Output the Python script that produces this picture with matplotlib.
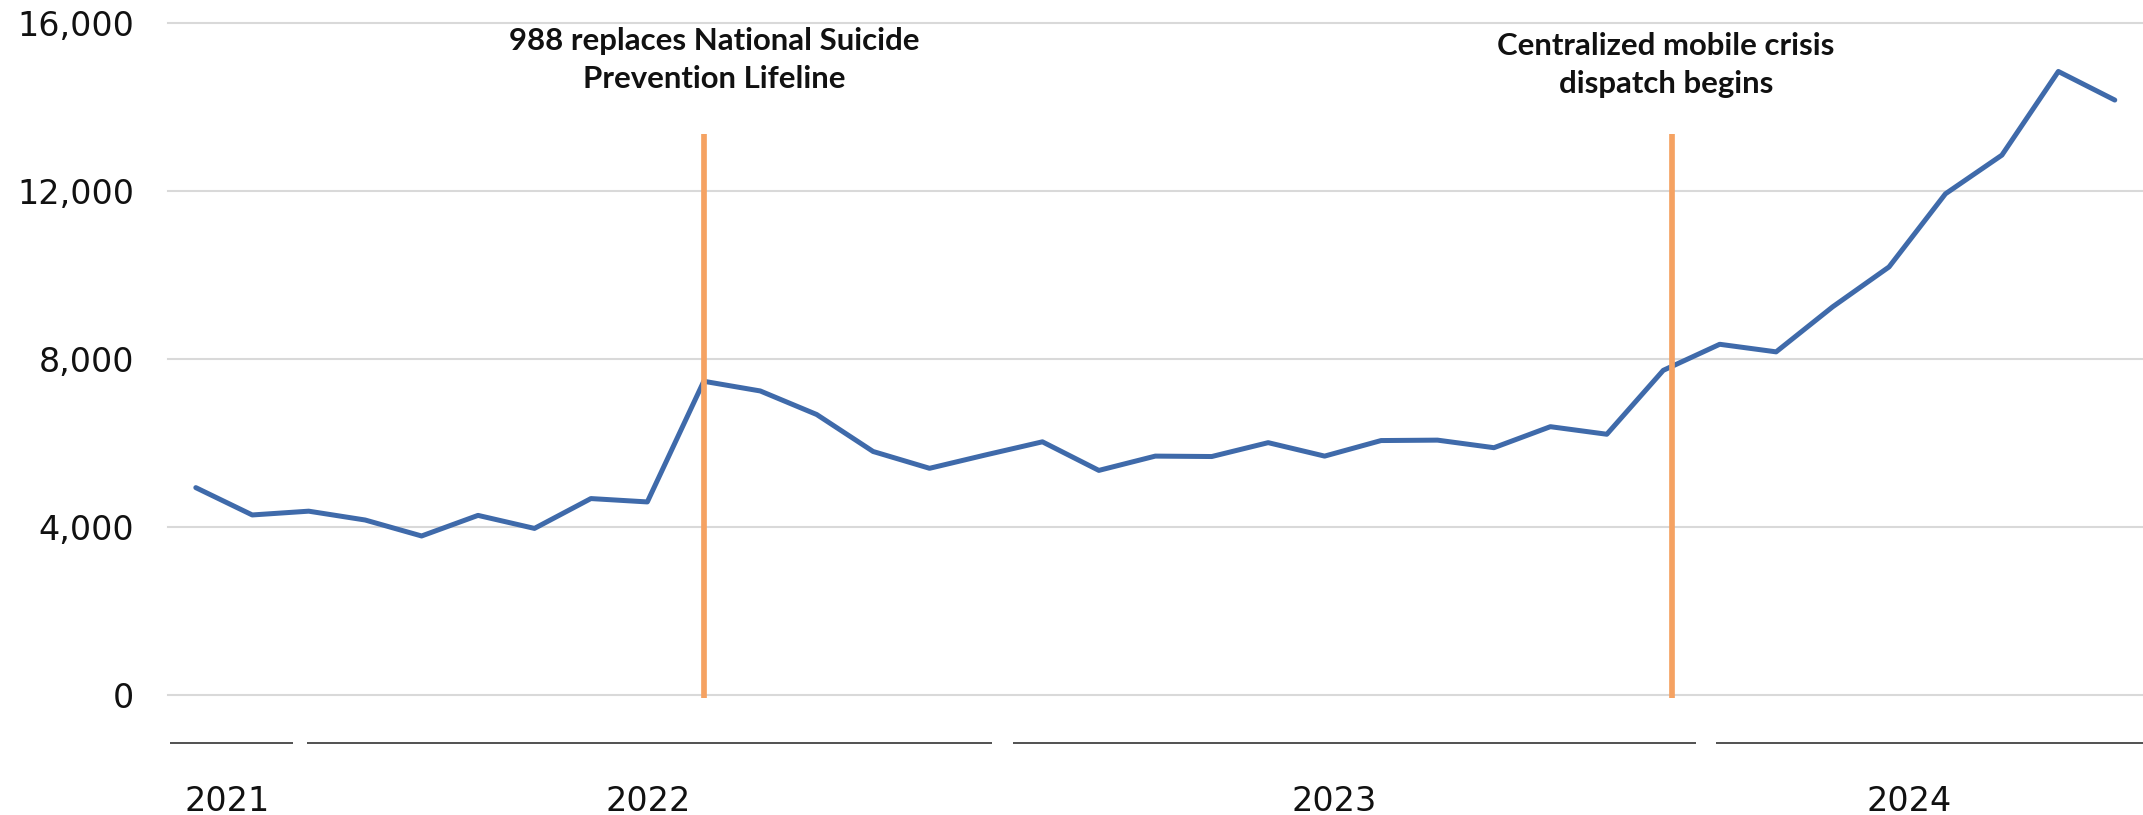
import matplotlib
matplotlib.use("Agg")
import matplotlib.pyplot as plt
from matplotlib import font_manager, transforms

# ---------------- data ----------------
months = ["2021-10", "2021-11", "2021-12",
          "2022-01", "2022-02", "2022-03", "2022-04", "2022-05", "2022-06",
          "2022-07", "2022-08", "2022-09", "2022-10", "2022-11", "2022-12",
          "2023-01", "2023-02", "2023-03", "2023-04", "2023-05", "2023-06",
          "2023-07", "2023-08", "2023-09", "2023-10", "2023-11", "2023-12",
          "2024-01", "2024-02", "2024-03", "2024-04", "2024-05", "2024-06",
          "2024-07", "2024-08"]
calls = [4940, 4290, 4380,
         4170, 3790, 4280, 3970, 4680, 4600,
         7470, 7240, 6680, 5800, 5400, 5720,
         6030, 5350, 5690, 5680, 6010, 5690,
         6060, 6070, 5890, 6390, 6210, 7730,
         8350, 8170, 9240, 10190, 11930, 12850,
         14840, 14160]
years = ["2021", "2022", "2023", "2024"]
event_pos = [9.0, 26.15]
event_labels = [["988 replaces National Suicide", "Prevention Lifeline"],
                ["Centralized mobile crisis", "dispatch begins"]]
y_ticks = [0, 4000, 8000, 12000, 16000]

# ---------------- layout / style ----------------
W, H = 2143, 815
BLUE = "#3F6AAA"
ORANGE = "#F5A262"
GRID = "#D9D9D9"

# year bracket spans & label centres (category-index units)
bracket_spans = [(-0.46, 1.73), (1.975, 14.10), (14.47, 26.58), (26.93, 34.5)]
year_centres = [0.55, 8.02, 20.17, 30.35]
ann_centres = [9.19, 26.05]
ann_baselines = [[50.4, 88.4], [54.6, 92.5]]   # px from top

fig = plt.figure(figsize=(W / 100, H / 100), dpi=100)
left = 167.6 / W
bottom = 1 - 695.3 / H
top = 1 - 22.7 / H
ax = fig.add_axes([left, bottom, 1 - left, top - bottom])

x = list(range(len(months)))
ax.plot(x, calls, color=BLUE, lw=3.6, solid_joinstyle="round",
        solid_capstyle="round", zorder=3)

for ep in event_pos:
    ax.plot([ep, ep], [-60, 13350], color=ORANGE, lw=4.1,
            solid_capstyle="butt", zorder=4, clip_on=False)

ax.set_xlim(-0.5, len(months) - 0.5)
ax.set_ylim(0, 16000)
ax.set_yticks(y_ticks)
ax.set_yticklabels([f"{v:,}" for v in y_ticks])
ax.set_xticks([])
ax.tick_params(axis="y", length=0, pad=24, labelsize=24, labelcolor="#111111")
for s in ax.spines.values():
    s.set_visible(False)
ax.grid(axis="y", color=GRID, lw=1.5, zorder=0)
for gl in ax.get_ygridlines():
    gl.set_clip_on(False)
ax.set_axisbelow(True)

# year brackets and labels below plot
trans = transforms.blended_transform_factory(ax.transData, fig.transFigure)
yb = 1 - 742.7 / H
for (a, b) in bracket_spans:
    ax.plot([a, b], [yb, yb], transform=trans, color="#222222", lw=1.1,
            clip_on=False, solid_capstyle="butt")
for yr, xc in zip(years, year_centres):
    ax.text(xc, 1 - 810.7 / H, yr, transform=trans, ha="center",
            va="baseline", fontsize=24, color="#111111",
            family="DejaVu Sans")

# annotation font
available = {f.name for f in font_manager.fontManager.ttflist}
ann_font = "DejaVu Sans"
for cand in ["Lato", "Roboto", "Roboto Condensed", "Open Sans"]:
    if cand in available:
        ann_font = cand
        break

texts = []
for lines, xc, bls in zip(event_labels, ann_centres, ann_baselines):
    for line, bl in zip(lines, bls):
        t = ax.text(xc, 1 - bl / H, line, transform=trans, ha="center",
                    va="baseline", fontsize=22, fontweight="bold",
                    family=ann_font, color="#111111")
        texts.append(t)

fig.canvas.draw()
r = fig.canvas.get_renderer()
w0 = texts[0].get_window_extent(r).width
scale = 410.0 / w0
for t in texts:
    t.set_fontsize(22 * scale)

fig.savefig("out.png", dpi=100)
